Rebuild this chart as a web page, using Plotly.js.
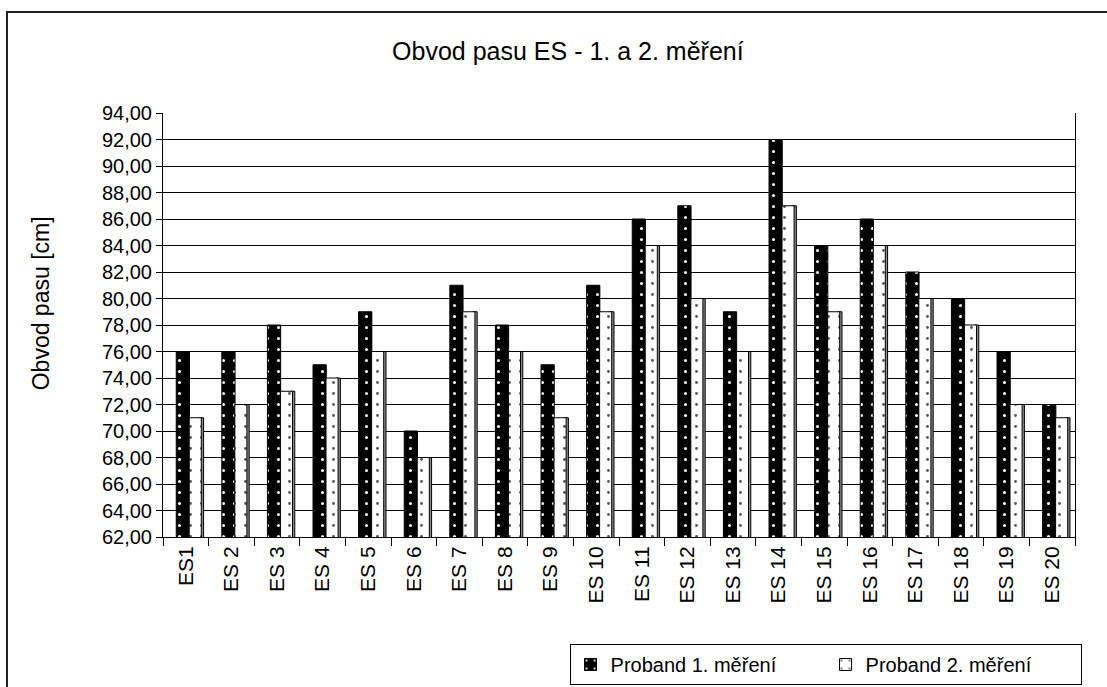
<!DOCTYPE html>
<html>
<head>
<meta charset="utf-8">
<script src="https://cdn.plot.ly/plotly-3.0.1.min.js"></script>
<style>
  html, body { margin: 0; padding: 0; background: #fff; }
  #wrap { position: relative; width: 1107px; height: 687px; overflow: hidden; }
  #frame { position: absolute; left: 6px; top: 11px; width: 1200px; height: 800px;
           border-left: 2px solid #222; border-top: 2px solid #222; pointer-events: none; z-index: 5; }
  #chart { position: absolute; left: 0; top: 0; width: 1107px; height: 687px; }
</style>
</head>
<body>
<div id="wrap">
  <div id="chart"></div>
  <div id="frame"></div>
</div>
<script>
const categories = ["ES1","ES 2","ES 3","ES 4","ES 5","ES 6","ES 7","ES 8","ES 9","ES 10",
                    "ES 11","ES 12","ES 13","ES 14","ES 15","ES 16","ES 17","ES 18","ES 19","ES 20"];
const mereni1 = [76,76,78,75,79,70,81,78,75,81,86,87,79,92,84,86,82,80,76,72];
const mereni2 = [71,72,73,74,76,68,79,76,71,79,84,80,76,87,79,84,80,78,72,71];
const yTicks = [62,64,66,68,70,72,74,76,78,80,82,84,86,88,90,92,94];
const yTitle = "Obvod pasu [cm]";
const chartTitle = "Obvod pasu ES - 1. a 2. měření";

const FONT = "Liberation Sans, Arial, sans-serif";

const traces = [
  {
    type: "bar", name: "Proband 1. měření", x: categories, y: mereni1,
    offset: -0.21, width: 0.29,
    marker: { color: "#000", line: { color: "#000", width: 1 },
              pattern: { shape: ".", fgcolor: "#ffffff", bgcolor: "#000", size: 11, solidity: 0.06 } }
  },
  {
    type: "bar", name: "side", x: categories, y: mereni2, showlegend: false, hoverinfo: "skip",
    offset: 0.30, width: 0.09,
    marker: { color: "#8a8a8a", line: { color: "#000", width: 1 } }
  },
  {
    type: "bar", name: "Proband 2. měření", x: categories, y: mereni2,
    offset: 0.075, width: 0.265,
    marker: { color: "#fff", line: { color: "#000", width: 1 },
              pattern: { shape: ".", fgcolor: "#555", bgcolor: "#fff", size: 11, solidity: 0.05 } }
  }
];

const layout = {
  width: 1107, height: 687,
  margin: { l: 163, r: 32, t: 113, b: 150, autoexpand: false },
  paper_bgcolor: "#fff", plot_bgcolor: "#fff",
  font: { family: FONT, color: "#000", size: 20 },
  separators: ", ",
  barmode: "overlay",
  title: { text: chartTitle, font: { family: FONT, size: 25, color: "#000" },
           x: 0.513, xanchor: "center", y: 0.925, yanchor: "middle" },
  xaxis: {
    type: "category", tickangle: -90, ticks: "outside", ticklen: 8, tickcolor: "#000",
    tickson: "boundaries", showline: true, linecolor: "#000", linewidth: 1,
    showgrid: false, tickfont: { size: 21, family: FONT }, fixedrange: true, automargin: false
  },
  yaxis: {
    range: [62, 94], tickvals: yTicks, tickformat: ".2f",
    ticks: "outside", ticklen: 6, tickcolor: "#000",
    showline: true, linecolor: "#000", linewidth: 1, mirror: true,
    showgrid: true, gridcolor: "#000", gridwidth: 1, zeroline: false,
    tickfont: { size: 20, family: FONT },
    fixedrange: true, automargin: false
  },
  annotations: [{
    text: yTitle, xref: "paper", yref: "paper", x: -0.1334, y: 0.552,
    xanchor: "center", yanchor: "middle", textangle: -90, showarrow: false,
    font: { size: 23, family: FONT, color: "#000" }
  }],
  legend: {
    orientation: "h", xref: "container", yref: "container",
    xanchor: "right", x: 0.977, yanchor: "top", y: 0.0626,
    bordercolor: "#000", borderwidth: 1, bgcolor: "#fff",
    entrywidth: 210, entrywidthmode: "pixels",
    font: { size: 20, family: FONT }, traceorder: "normal"
  },
  showlegend: true
};

Plotly.newPlot("chart", traces, layout, { displayModeBar: false, staticPlot: true });
</script>
</body>
</html>
